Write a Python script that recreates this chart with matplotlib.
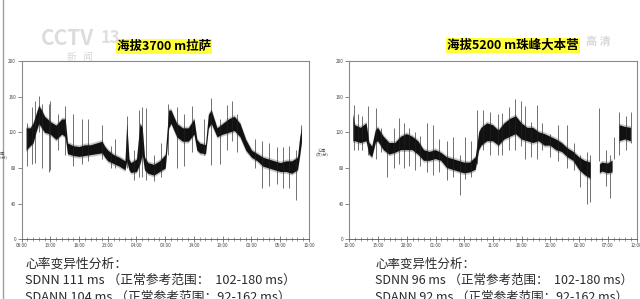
import numpy as np
import matplotlib
matplotlib.use("Agg")
import matplotlib.pyplot as plt
from matplotlib.lines import Line2D

plt.rcParams['font.family'] = ['Noto Sans CJK SC', 'DejaVu Sans']

# ---------------- data ----------------
titles = ["海拔3700 m拉萨", "海拔5200 m珠峰大本营"]
xtick_labels_L = ["08:00", "13:00", "18:00", "23:00", "04:00", "09:00",
                  "14:00", "19:00", "00:00", "05:00", "10:00"]
xtick_labels_R = ["10:00", "15:00", "20:00", "01:00", "06:00", "11:00",
                  "16:00", "21:00", "02:00", "07:00", "12:00"]
ytick_values = [0, 40, 80, 120, 160, 200]

# core band of the heart-rate trace (hours since axis start, bpm)
hours_L = [0.8, 1.5, 2.0, 2.5, 3.0, 3.5, 4.0, 5.0, 6.0, 7.0, 7.6, 8.0, 9.0, 10.0,
           11.0, 12.0, 13.0, 14.0, 14.5, 15.0, 16.0, 17.0, 18.0, 18.3, 18.7, 19.0,
           20.0, 20.6, 21.0, 21.4, 22.0, 23.0, 24.0, 25.0, 25.6, 26.0, 27.0, 28.0,
           29.0, 30.0, 30.5, 31.0, 32.0, 32.5, 33.0, 34.0, 35.0, 36.0, 37.0, 38.0,
           39.0, 40.0, 41.0, 42.0, 43.0, 44.0, 45.0, 46.0, 47.0, 48.0, 48.4, 48.7]
lo_L = [100, 105, 108, 120, 130, 125, 120, 118, 112, 118, 115, 96, 94, 93,
        94, 95, 96, 97, 92, 88, 85, 82, 78, 88, 78, 75,
        76, 85, 95, 78, 74, 72, 76, 80, 125, 130, 115, 110,
        110, 118, 100, 97, 96, 125, 130, 115, 118, 120, 122, 115,
        100, 92, 88, 82, 80, 78, 76, 76, 74, 78, 95, 110]
hi_L = [125, 125, 130, 140, 150, 145, 138, 132, 128, 135, 135, 108, 105, 104,
        106, 106, 108, 110, 104, 100, 95, 92, 88, 130, 90, 86,
        90, 130, 125, 92, 86, 84, 88, 95, 145, 145, 130, 125,
        125, 135, 112, 108, 106, 140, 145, 125, 130, 135, 138, 130,
        112, 100, 96, 92, 90, 88, 86, 88, 88, 92, 115, 125]

hours_R = [0.7, 1.0, 2.0, 3.0, 3.5, 4.0, 4.6, 5.0, 6.0, 7.0, 8.0, 9.0, 10.0, 11.0,
           12.0, 13.0, 14.0, 15.0, 16.0, 17.0, 18.0, 19.0, 20.0, 21.0, 22.0, 22.6,
           23.0, 24.0, 25.0, 26.0, 27.0, 28.0, 29.0, 30.0, 31.0, 32.0, 33.0, 34.0,
           35.0, 36.0, 37.0, 38.0, 39.0, 40.0, 41.0, 42.0, 42.4, 43.0, 43.6, 44.0,
           45.0, 45.8, 46.2, 46.8, 47.0, 48.0, 49.0]
lo_R = [110, 110, 108, 110, 95, 92, 108, 110, 100, 95, 97, 100, 100, 100,
        95, 88, 88, 90, 88, 80, 78, 76, 74, 75, 78, 100,
        105, 110, 110, 105, 112, 115, 118, 112, 110, 108, 110, 105,
        105, 100, 98, 92, 88, 78, 72, 68, np.nan, np.nan, 74, 76,
        74, 75, np.nan, np.nan, 110, 112, 110]
hi_R = [140, 128, 125, 130, 108, 104, 122, 125, 115, 108, 108, 115, 118, 115,
        110, 100, 98, 100, 97, 92, 90, 88, 86, 86, 92, 120,
        125, 130, 128, 122, 130, 135, 138, 130, 125, 125, 120, 118,
        115, 112, 108, 102, 98, 92, 88, 86, np.nan, np.nan, 84, 86,
        85, 88, np.nan, np.nan, 128, 126, 125]

# isolated spikes (hour, low, high)
spike_h_L = [1.0, 1.8, 2.4, 3.0, 3.6, 4.7, 5.0, 6.3, 7.6, 9.0, 10.6, 11.6, 14.0,
             15.6, 16.3, 18.3, 19.6, 20.4, 21.0, 21.6, 23.0, 24.3, 25.5, 27.0,
             28.2, 29.6, 31.8, 33.0, 34.5, 35.8, 36.6, 37.5, 40.6, 41.8, 43.0,
             44.5, 45.5, 46.6, 47.8, 48.6]
spike_lo_L = [82, 85, 86, 120, 80, 76, 78, 100, 95, 82, 85, 88, 90,
              80, 80, 80, 66, 70, 70, 66, 65, 70, 95, 80,
              82, 98, 95, 83, 84, 100, 110, 98, 80, 57, 60,
              62, 58, 58, 44, 110]
spike_hi_L = [130, 148, 155, 161, 152, 152, 155, 140, 150, 140, 135, 135, 128,
              105, 112, 138, 100, 145, 148, 147, 95, 108, 152, 148,
              140, 150, 135, 158, 135, 151, 155, 140, 112, 110, 108,
              104, 104, 105, 100, 128]

spike_h_R = [0.8, 1.5, 2.2, 3.3, 4.6, 5.6, 6.5, 7.8, 8.6, 9.5, 10.4, 11.5, 12.3,
             13.6, 14.6, 15.6, 17.0, 18.1, 19.3, 20.2, 21.2, 22.2, 23.3, 24.5,
             25.8, 26.6, 27.8, 28.8, 29.9, 30.6, 31.6, 32.6, 33.6, 35.0, 36.3,
             37.8, 39.1, 40.2, 41.3, 41.9, 43.5, 44.6, 45.3, 46.0, 46.9, 48.2, 49.0]
spike_lo_R = [100, 100, 100, 95, 90, 98, 70, 80, 85, 80, 82, 78, 82,
              75, 72, 75, 67, 70, 50, 68, 70, 85, 100, 95,
              95, 95, 100, 100, 105, 90, 92, 90, 100, 92, 88,
              80, 78, 59, 40, 42, 88, 60, 46, 90, 95, 100, 108]
spike_hi_R = [151, 140, 138, 149, 147, 125, 110, 125, 136, 130, 125, 120, 116,
              130, 128, 112, 110, 115, 95, 115, 110, 145, 145, 143,
              140, 142, 148, 157, 155, 150, 132, 151, 130, 118, 128,
              128, 108, 95, 98, 95, 147, 100, 95, 115, 143, 138, 143]

stats_L = ["心率变异性分析：",
           "SDNN 111 ms （正常参考范围：  102-180 ms）",
           "SDANN 104 ms （正常参考范围：92-162 ms）"]
stats_R = ["心率变异性分析：",
           "SDNN 96 ms （正常参考范围：  102-180 ms）",
           "SDANN 92 ms （正常参考范围：92-162 ms）"]

# ---------------- figure ----------------
fig = plt.figure(figsize=(6.4, 2.99), dpi=100)
fig.patch.set_facecolor('white')

spine_c = '#8a8a8a'
txt_c = '#2b2b2b'


def draw_panel(rect, hours, lo, hi, sh, slo, shi, xlabels, title, title_xy):
    ax = fig.add_axes(rect)
    hrs = np.array(hours)
    lo_a = np.array(lo, dtype=float)
    hi_a = np.array(hi, dtype=float)
    ax.fill_between(hrs, lo_a - 2, hi_a + 2, color='#8c8c8c', lw=0, alpha=0.5)
    ax.fill_between(hrs, lo_a, hi_a, color='#111111', lw=0)
    ax.vlines(sh, slo, shi, color='#222222', lw=0.45)
    ax.set_xlim(0, 50)
    ax.set_ylim(0, 200)
    ax.set_xticks(np.arange(0, 51, 5))
    ax.set_xticklabels(xlabels)
    ax.set_xticks(np.arange(0, 51, 1), minor=True)
    ax.set_yticks(ytick_values)
    ax.tick_params(axis='x', which='major', direction='inout', length=4,
                   width=0.5, color='#555555', labelsize=3.3, pad=1,
                   labelcolor='#444444')
    ax.tick_params(axis='x', which='minor', direction='inout', length=2.5,
                   width=0.4, color='#555555')
    ax.tick_params(axis='y', direction='out', length=3, width=0.5,
                   color='#555555', labelsize=3.3, pad=1, labelcolor='#444444')
    for s in ax.spines.values():
        s.set_color(spine_c)
        s.set_linewidth(0.8)
    ax.spines['bottom'].set_color('#555555')
    ax.spines['bottom'].set_linewidth(0.6)
    fig.text(title_xy[0], title_xy[1], title, fontsize=9, fontweight='bold',
             ha='center', va='center', color='black',
             bbox=dict(boxstyle='square,pad=0.08', fc='#ffff3a', ec='none'))
    return ax


axL = draw_panel([0.0336, 0.1997, 0.4492, 0.5963], hours_L, lo_L, hi_L,
                 spike_h_L, spike_lo_L, spike_hi_L, xtick_labels_L,
                 titles[0], (0.256, 0.846))
axR = draw_panel([0.5458, 0.1997, 0.4490, 0.5963], hours_R, lo_R, hi_R,
                 spike_h_R, spike_lo_R, spike_hi_R, xtick_labels_R,
                 titles[1], (0.802, 0.849))

# y-axis labels (small)
fig.text(0.503, 0.488, "心率\n(次/分)", fontsize=3, ha='center', va='center',
         color='#555555', linespacing=1.1)
fig.text(0.002, 0.478, "心率\n(次/分)", fontsize=3, ha='center', va='center',
         color='#555555', linespacing=1.1)

# HRV statistics text
for i, line in enumerate(stats_L):
    fig.text(0.039, 0.117 - i * 0.055, line, fontsize=9.2, ha='left',
             va='center', color=txt_c)
for i, line in enumerate(stats_R):
    fig.text(0.586, 0.117 - i * 0.055, line, fontsize=9.0, ha='left',
             va='center', color=txt_c)

# broadcast watermark
fig.text(0.105, 0.872, "CCTV", fontsize=15, fontweight='bold', style='italic',
         ha='center', va='center', color='#d9d9d9', alpha=0.9)
fig.text(0.172, 0.872, "13", fontsize=12, fontweight='bold',
         ha='center', va='center', color='#dcdcdc', alpha=0.9)
fig.text(0.125, 0.81, "新   闻", fontsize=7, ha='center', va='center',
         color='#d5d5d5', alpha=0.9)
fig.text(0.935, 0.86, "高 清", fontsize=8, fontweight='bold',
         ha='center', va='center', color='#d5d5d5', alpha=0.9)

# frame line of the screen
fig.add_artist(Line2D([0.004, 0.004], [0, 1], transform=fig.transFigure,
                      color='#a0a0a0', lw=1))

fig.savefig("out.png", dpi=100, facecolor='white')
